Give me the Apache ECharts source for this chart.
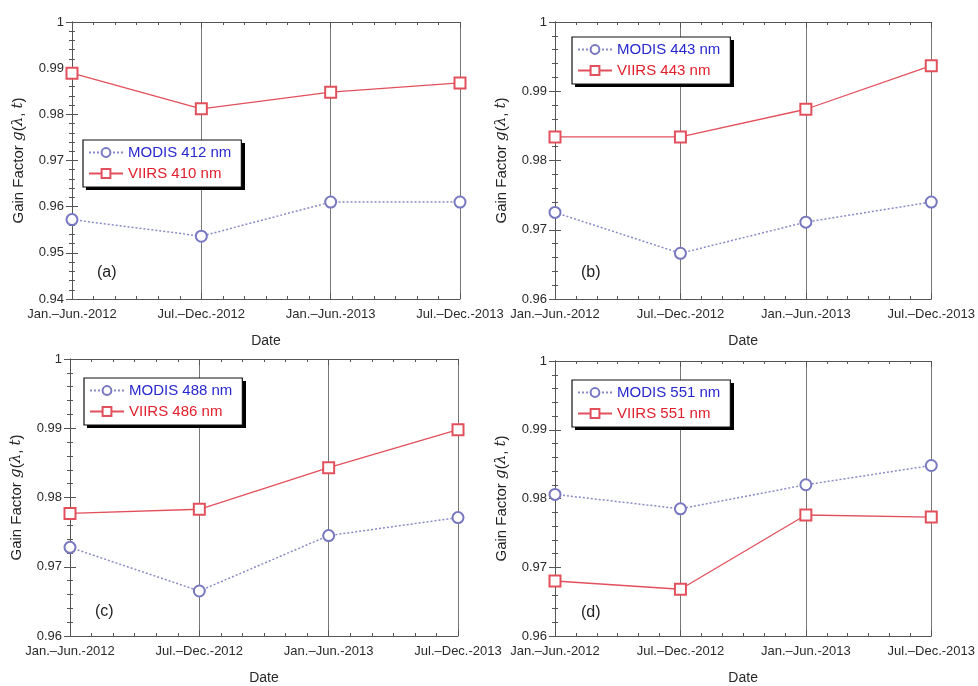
<!DOCTYPE html>
<html><head><meta charset="utf-8">
<script src="https://cdn.jsdelivr.net/npm/echarts@6/dist/echarts.min.js"></script>
<style>html,body{margin:0;padding:0;background:#fff}#c{width:978px;height:686px}</style>
</head><body><div id="c"></div>
<script>
const categories = ['Jan.\u2013Jun.-2012', 'Jul.\u2013Dec.-2012', 'Jan.\u2013Jun.-2013', 'Jul.\u2013Dec.-2013'];
const panelLabels = ['(a)', '(b)', '(c)', '(d)'];
const modisNames = ['MODIS 412 nm', 'MODIS 443 nm', 'MODIS 488 nm', 'MODIS 551 nm'];
const viirsNames = ['VIIRS 410 nm', 'VIIRS 443 nm', 'VIIRS 486 nm', 'VIIRS 551 nm'];
const modisA = [0.9572, 0.9536, 0.9610, 0.9610];
const viirsA = [0.9889, 0.9812, 0.9848, 0.9868];
const modisB = [0.9725, 0.9666, 0.9711, 0.9740];
const viirsB = [0.9834, 0.9834, 0.9874, 0.9937];
const modisC = [0.9728, 0.9665, 0.9745, 0.9771];
const viirsC = [0.9777, 0.9783, 0.9843, 0.9898];
const modisD = [0.9806, 0.9785, 0.9820, 0.9848];
const viirsD = [0.9680, 0.9668, 0.9776, 0.9773];
const yMins = [0.94, 0.96, 0.96, 0.96];
const yMax = 1;
const yStep = 0.01;

const modisAll = [modisA, modisB, modisC, modisD];
const viirsAll = [viirsA, viirsB, viirsC, viirsD];

const FONT = 'Liberation Sans, Arial, Helvetica, sans-serif';
const grids = [
  {left: 72, top: 22, width: 388, height: 277},
  {left: 555, top: 22, width: 388, height: 277},
  {left: 70, top: 359, width: 388, height: 278},
  {left: 555, top: 361, width: 388, height: 278}
];
const legendPos = [
  {left: 83, top: 140},
  {left: 572, top: 37},
  {left: 84, top: 378},
  {left: 572, top: 380}
];
const legendBox = {w: 159, h: 47};
const labelPos = [[97, 265], [581, 265], [95, 604], [581, 605]];

const AXC = '#555';
const xAxes = [], yAxes = [], series = [], legends = [], graphics = [];
grids.forEach((g, i) => {
  const ymin = yMins[i];
  xAxes.push({
    type: 'value', gridIndex: i, min: 0, max: categories.length - 1, interval: 1,
    position: 'bottom',
    axisLine: {show: true, lineStyle: {color: AXC, width: 1}},
    axisTick: {show: true, inside: true, length: 6, lineStyle: {color: AXC}},
    minorTick: {show: true, splitNumber: 6, length: 3, lineStyle: {color: AXC}},
    splitLine: {show: true, lineStyle: {color: '#777', width: 1}},
    axisLabel: {formatter: v => categories[v] || '', margin: 9, color: '#2a2a2a', fontSize: 13, fontFamily: FONT, hideOverlap: false},
    name: 'Date', nameLocation: 'middle', nameGap: 35,
    nameTextStyle: {color: '#2a2a2a', fontSize: 14, fontFamily: FONT}
  });
  xAxes.push({
    type: 'value', gridIndex: i, min: 0, max: categories.length - 1, interval: 1,
    position: 'top',
    axisLine: {show: true, lineStyle: {color: AXC, width: 1}},
    axisTick: {show: true, inside: true, length: 6, lineStyle: {color: AXC}},
    minorTick: {show: true, splitNumber: 6, length: 3, lineStyle: {color: AXC}},
    splitLine: {show: false}, axisLabel: {show: false}
  });
  yAxes.push({
    type: 'value', gridIndex: i, min: ymin, max: yMax, interval: yStep,
    position: 'left',
    axisLine: {show: true, lineStyle: {color: AXC, width: 1}},
    axisTick: {show: true, inside: true, length: 6, lineStyle: {color: AXC}},
    minorTick: {show: true, splitNumber: 5, length: 3, lineStyle: {color: AXC}},
    splitLine: {show: false},
    axisLabel: {margin: 8, color: '#2a2a2a', fontSize: 13, fontFamily: FONT,
      formatter: v => String(Math.round(v * 100) / 100)},
    name: 'Gain Factor {i|g}({i|\u03bb}, {i|t})', nameLocation: 'middle', nameGap: 46,
    nameTextStyle: {color: '#222', fontSize: 15, fontFamily: FONT,
      rich: {i: {fontStyle: 'italic', fontFamily: 'DejaVu Serif, Liberation Serif, serif', fontSize: 15, color: '#222'}}}
  });
  yAxes.push({
    type: 'value', gridIndex: i, min: ymin, max: yMax, interval: yStep,
    position: 'right',
    axisLine: {show: true, lineStyle: {color: AXC, width: 1}},
    axisTick: {show: true, inside: true, length: 6, lineStyle: {color: AXC}},
    minorTick: {show: true, splitNumber: 5, length: 3, lineStyle: {color: AXC}},
    splitLine: {show: false}, axisLabel: {show: false}
  });
  series.push({
    type: 'line', name: modisNames[i], xAxisIndex: 2 * i, yAxisIndex: 2 * i,
    data: modisAll[i].map((v, k) => [k, v]),
    symbol: 'emptyCircle', symbolSize: 11,
    itemStyle: {color: '#7878c0', borderWidth: 1.1},
    lineStyle: {color: '#8a8ac8', width: 1.5, type: [2, 2]},
    z: 3
  });
  series.push({
    type: 'line', name: viirsNames[i], xAxisIndex: 2 * i, yAxisIndex: 2 * i,
    data: viirsAll[i].map((v, k) => [k, v]),
    symbol: 'emptyRect', symbolSize: 11,
    itemStyle: {color: '#e2505c', borderWidth: 1.1},
    lineStyle: {color: '#e2505c', width: 1.3},
    z: 3
  });
  legends.push({
    orient: 'vertical', left: legendPos[i].left, top: legendPos[i].top,
    data: [
      {name: modisNames[i], textStyle: {color: '#2828d0'}},
      {name: viirsNames[i], textStyle: {color: '#e0202c'}}
    ],
    itemWidth: 34, itemHeight: 11, itemGap: 6,
    padding: [5, 10, 6, 5],
    backgroundColor: '#fff', borderColor: '#111', borderWidth: 1.2,
    textStyle: {fontSize: 15, fontFamily: FONT},
    selectedMode: false, z: 6
  });
  graphics.push({
    type: 'rect', z: 5,
    shape: {x: legendPos[i].left + 3, y: legendPos[i].top + 3, width: legendBox.w, height: legendBox.h},
    style: {fill: '#000'}
  });
  graphics.push({
    type: 'text', left: labelPos[i][0], top: labelPos[i][1],
    style: {text: panelLabels[i], fontSize: 16, fontFamily: FONT, fill: '#222'}
  });
});

const chart = echarts.init(document.getElementById('c'), null, {renderer: 'canvas'});
chart.setOption({
  backgroundColor: '#fff',
  animation: false,
  grid: grids,
  xAxis: xAxes,
  yAxis: yAxes,
  series: series,
  legend: legends,
  graphic: graphics
});
</script></body></html>
